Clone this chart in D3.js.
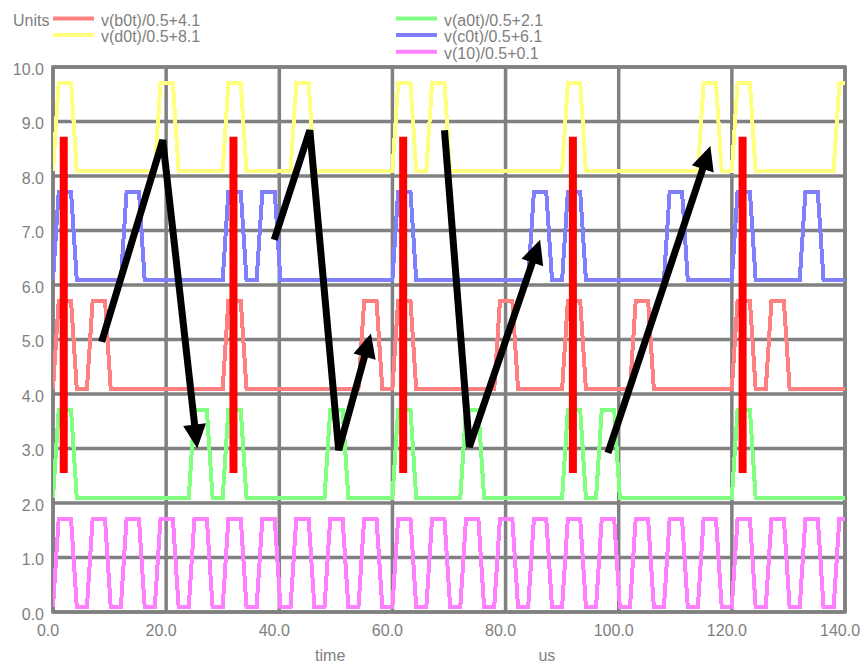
<!DOCTYPE html>
<html>
<head>
<meta charset="utf-8">
<script src="https://cdn.jsdelivr.net/npm/d3@7"></script>
<style>
  html, body { margin: 0; padding: 0; background: #ffffff; }
  svg { display: block; }
  text { font-family: "Liberation Sans", Arial, sans-serif; }
</style>
</head>
<body>
<div id="chart"></div>
<script>
// ---------------- data ----------------
const xTicks = [0, 20, 40, 60, 80, 100, 120, 140];           // time, us
const yTicks = [0, 1, 2, 3, 4, 5, 6, 7, 8, 9, 10];            // Units
const xTitleLeft = "time";
const xTitleRight = "us";
const yTitle = "Units";

const seriesNames   = ["v(b0t)/0.5+4.1", "v(a0t)/0.5+2.1", "v(d0t)/0.5+8.1", "v(c0t)/0.5+6.1", "v(10)/0.5+0.1"];
const seriesOffsets = [4.1, 2.1, 8.1, 6.1, 0.1];
const logicHigh = 0.8;          // volts of a high level (v/0.5 -> 1.6 units)
const divisor = 0.5;

// pulse timing (us): start of rising edge of each pulse
const b0tStarts = [0, 6, 30, 54, 60, 78, 90, 102, 120, 126];
const a0tStarts = [0, 24, 30, 48, 60, 72, 90, 96, 120];
const d0tStarts = [0, 18, 30, 42, 60, 66, 90, 114, 120, 138];
const c0tStarts = [0, 12, 30, 36, 60, 84, 90, 108, 120, 132];
const clkStarts = [0, 6, 12, 18, 24, 30, 36, 42, 48, 54, 60, 66, 72, 78, 84, 90, 96, 102, 108, 114, 120, 126, 132, 138];
const riseTime = 1.0, highTime = 2.2, fallTime = 1.0;

// red marker bars (time, from value, to value)
const markerTimes = [1.9, 31.9, 61.9, 91.9, 121.9];
const markerFrom = 2.55, markerTo = 8.72;

// black arrows: polylines in (time, value), arrowhead at the last point
const arrow1 = [[8.6, 4.96], [19.4, 8.66], [25.5, 3.0]];
const arrow2 = [[39.1, 6.83], [45.4, 8.84], [50.5, 2.97], [56.2, 5.11]];
const arrow3 = [[69.2, 8.84], [73.6, 3.03], [86.1, 6.83]];
const arrow4 = [[98.1, 2.92], [116.2, 8.55]];

// ---------------- layout / style ----------------
const W = 862, H = 664;
const mLeft = 53, mRight = 845, mTop = 67, mBottom = 612;
const colors = ["#ff8080", "#80ff80", "#ffff80", "#8080ff", "#ff80ff"];
const gridColor = "#808080";
const textColor = "#808080";

const svg = d3.select("#chart").append("svg")
  .attr("width", W).attr("height", H);

const x = d3.scaleLinear().domain([0, 140]).range([mLeft, mRight]);
const y = d3.scaleLinear().domain([0, 10]).range([mBottom, mTop]);

svg.append("defs").append("clipPath").attr("id", "plotclip")
  .append("rect").attr("x", mLeft).attr("y", mTop - 10)
  .attr("width", mRight - mLeft).attr("height", mBottom - mTop + 20);

// grid
const grid = svg.append("g");
grid.selectAll("line.v").data(xTicks).join("line")
  .attr("x1", d => x(d)).attr("x2", d => x(d))
  .attr("y1", mTop).attr("y2", mBottom)
  .attr("stroke", gridColor).attr("stroke-width", 3.5);
grid.selectAll("line.h").data(yTicks).join("line")
  .attr("x1", mLeft).attr("x2", mRight)
  .attr("y1", d => y(d)).attr("y2", d => y(d))
  .attr("stroke", gridColor).attr("stroke-width", 3.5);
grid.append("rect").attr("x", mLeft).attr("y", mTop)
  .attr("width", mRight - mLeft).attr("height", mBottom - mTop)
  .attr("fill", "none").attr("stroke", gridColor).attr("stroke-width", 3.5);

// axes (labels only)
const xAxis = d3.axisBottom(x).tickValues(xTicks).tickFormat(d3.format(".1f"))
  .tickSize(0).tickPadding(13);
const gx = svg.append("g").attr("transform", `translate(-5.5,${mBottom})`).call(xAxis);
gx.select(".domain").remove();
gx.selectAll("text").attr("fill", textColor).style("font-size", "16px");

const yAxis = d3.axisLeft(y).tickValues(yTicks).tickFormat(d3.format(".1f"))
  .tickSize(0).tickPadding(9);
const gy = svg.append("g").attr("transform", `translate(${mLeft},0)`).call(yAxis);
gy.select(".domain").remove();
gy.selectAll("text").attr("fill", textColor).style("font-size", "16px").attr("dy", "0.44em");

svg.append("text").attr("x", x(49)).attr("y", 661).attr("text-anchor", "middle")
  .attr("fill", textColor).style("font-size", "16px").text(xTitleLeft);
svg.append("text").attr("x", x(87.3)).attr("y", 661).attr("text-anchor", "middle")
  .attr("fill", textColor).style("font-size", "16px").text(xTitleRight);

// traces
function train(starts, offset) {
  const low = offset, high = offset + logicHigh / divisor;
  const pts = [[0, low]];
  starts.forEach(s => {
    pts.push([s, low], [s + riseTime, high], [s + riseTime + highTime, high],
             [s + riseTime + highTime + fallTime, low]);
  });
  if (pts[pts.length - 1][0] < 140) pts.push([140, low]);
  return pts;
}
const allStarts = [b0tStarts, a0tStarts, d0tStarts, c0tStarts, clkStarts];
const line = d3.line().x(d => x(d[0])).y(d => y(d[1]));
const traces = svg.append("g").attr("clip-path", "url(#plotclip)");
[4, 3, 2, 1, 0].forEach(i => {
  traces.append("path")
    .attr("d", line(train(allStarts[i], seriesOffsets[i])))
    .attr("fill", "none").attr("stroke", colors[i]).attr("stroke-width", 4)
    .attr("stroke-linejoin", "miter").attr("shape-rendering", "crispEdges");
});

// legend
const legendRows = [
  { i: 0, col: 0, row: 0 }, { i: 1, col: 1, row: 0 },
  { i: 2, col: 0, row: 1 }, { i: 3, col: 1, row: 1 },
  { i: 4, col: 1, row: 2 }
];
svg.append("text").attr("x", 13).attr("y", 25.5).attr("fill", textColor)
  .style("font-size", "16px").text(yTitle);
const colX = [53, 396];
legendRows.forEach(r => {
  const yy = 18.5 + r.row * 16.6;
  svg.append("line").attr("x1", colX[r.col]).attr("x2", colX[r.col] + 41)
    .attr("y1", yy).attr("y2", yy).attr("stroke", colors[r.i]).attr("stroke-width", 4);
  svg.append("text").attr("x", colX[r.col] + 48).attr("y", yy + 7)
    .attr("fill", textColor).style("font-size", "16px").text(seriesNames[r.i]);
});

// red marker bars
svg.append("g").selectAll("line").data(markerTimes).join("line")
  .attr("x1", d => x(d)).attr("x2", d => x(d))
  .attr("y1", y(markerTo)).attr("y2", y(markerFrom))
  .attr("stroke", "#ff0000").attr("stroke-width", 8);

// black arrows
const arrows = [arrow1, arrow2, arrow3, arrow4];
const ag = svg.append("g");
const headLen = 24, headHalf = 11.5;
arrows.forEach(a => {
  const px = a.map(p => [x(p[0]), y(p[1])]);
  const n = px.length;
  const tip = px[n - 1], prev = px[n - 2];
  const dx = tip[0] - prev[0], dy = tip[1] - prev[1];
  const len = Math.hypot(dx, dy), ux = dx / len, uy = dy / len;
  const shortened = px.slice(0, n - 1).concat([[tip[0] - ux * headLen * 0.6, tip[1] - uy * headLen * 0.6]]);
  ag.append("path").attr("d", d3.line()(shortened))
    .attr("fill", "none").attr("stroke", "#000").attr("stroke-width", 7)
    .attr("stroke-linejoin", "miter").attr("stroke-miterlimit", 2);
  const bx = tip[0] - ux * headLen, by = tip[1] - uy * headLen;
  ag.append("path").attr("d", d3.line()([
      tip, [bx - uy * headHalf, by + ux * headHalf], [bx + uy * headHalf, by - ux * headHalf]
    ]) + "Z").attr("fill", "#000");
});
</script>
</body>
</html>
